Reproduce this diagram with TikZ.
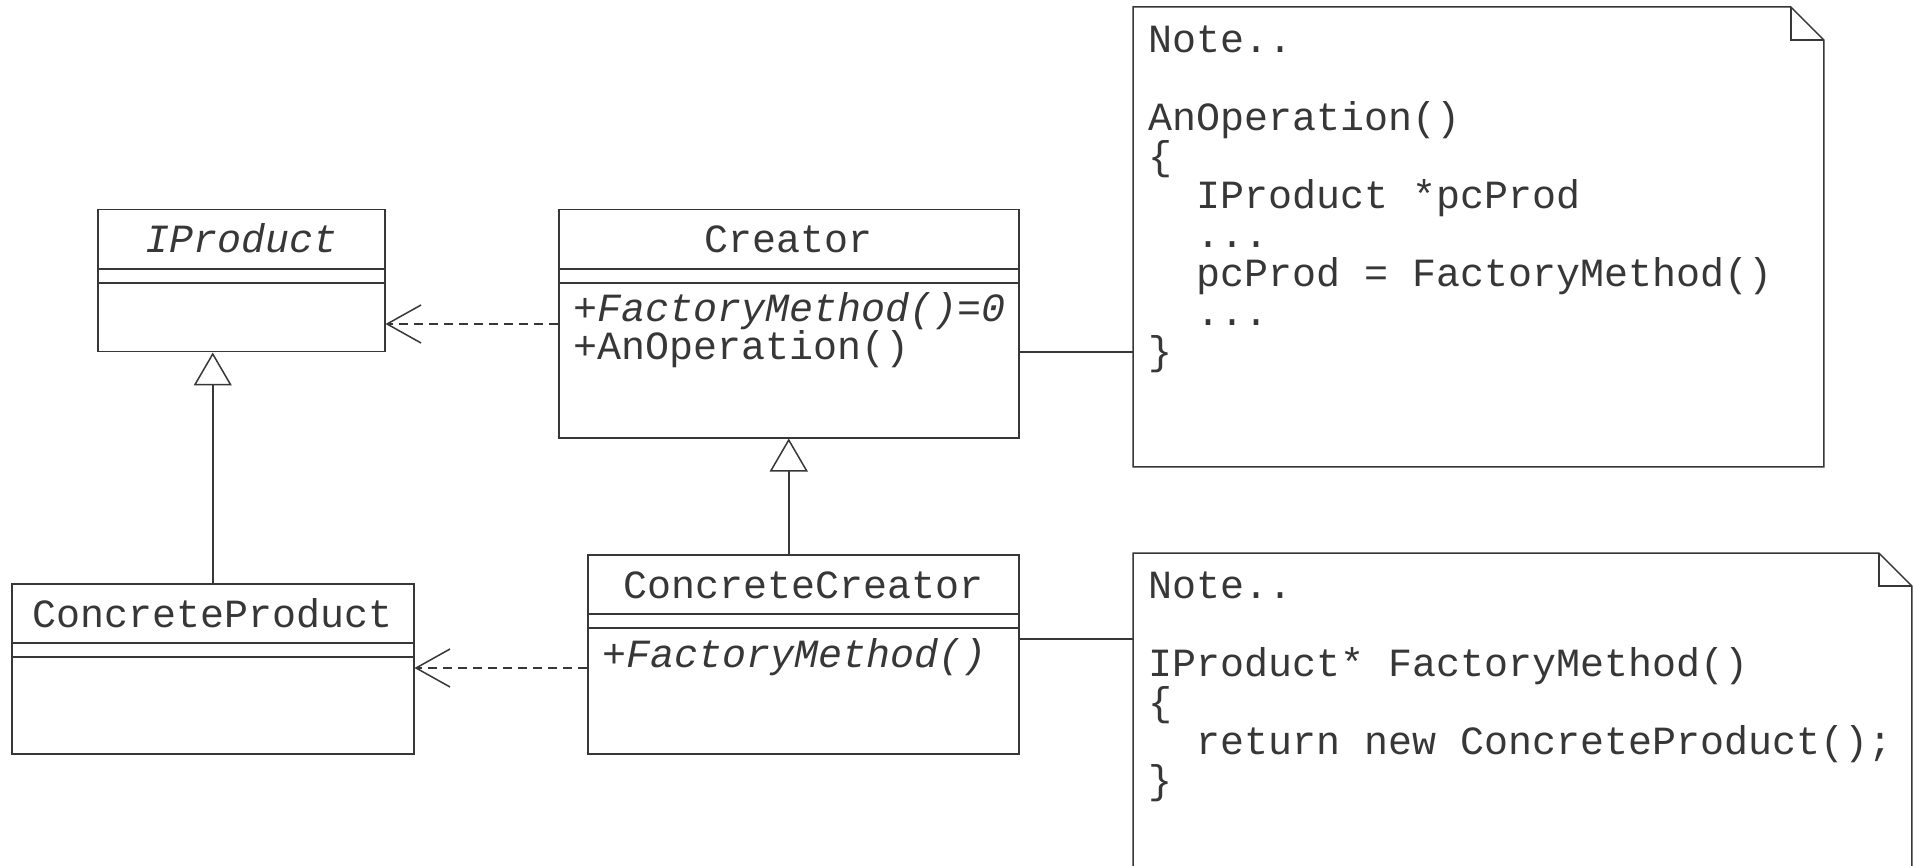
\documentclass[tikz,border=0pt]{standalone}
\usepackage{fontspec}
\usepackage{xcolor}
\usepackage{tikz}
\usetikzlibrary{arrows.meta, positioning, calc}
\newfontfamily\umlfont{Liberation Mono}
\newcommand{\umlsize}{\fontsize{20}{19.5}\selectfont}
\definecolor{umlgray}{RGB}{55,55,55}

\begin{document}
\begin{tikzpicture}[
    x=0.5pt, y=-0.5pt,
    class/.style={rectangle, draw=umlgray, line width=0.75pt, anchor=north west, inner sep=0pt},
    notebox/.style={rectangle, anchor=north west, inner sep=0pt},
    classname/.style={anchor=base, inner sep=0pt, text=umlgray, font=\umlfont\umlsize},
    method/.style={anchor=base west, inner sep=0pt, text=umlgray, font=\umlfont\umlsize},
    abstractop/.style={method, font=\umlfont\itshape\umlsize},
    notetext/.style={anchor=north west, inner sep=0pt, align=left, text=umlgray, font=\umlfont\umlsize},
    compline/.style={draw=umlgray, line width=0.75pt},
    noteline/.style={draw=umlgray, line width=0.75pt},
    dep/.style={draw=umlgray, line width=0.75pt, dash pattern=on 4.5pt off 3pt,
                -{Straight Barb[length=17pt, width=19pt]}},
    gen/.style={draw=umlgray, line width=0.75pt, -{Triangle[open, length=16.5pt, width=19pt]}}]

\useasboundingbox (0,0) rectangle (1913,866);
\clip (0,0) rectangle (1913,866);
\fill[white] (0,0) rectangle (1913,866);

%% Classes: IProduct, Creator, ConcreteProduct, ConcreteCreator
\node[class, minimum width=143.5pt, minimum height=71pt]   (iprod)    at (97,209)  {};
\node[class, minimum width=230pt,   minimum height=114pt]  (creator)  at (558,209) {};
\node[class, minimum width=201pt,   minimum height=85pt]   (cprod)    at (11,583)  {};
\node[class, minimum width=215.5pt, minimum height=99.5pt] (ccreator) at (587,554) {};

%% Compartments
\foreach \c in {iprod, creator, cprod, ccreator}
    \foreach \d in {30pt, 37pt}
        \draw[compline] ([yshift=-\d]\c.north west) -- ([yshift=-\d]\c.north east);

%% Names
\node[classname, font=\umlfont\itshape\umlsize] (iprodname) at ([yshift=-22pt]iprod.north) {IProduct};
\node[classname] (creatorname)  at ([yshift=-22pt]creator.north)  {Creator};
\node[classname] (cprodname)    at ([yshift=-22pt]cprod.north)    {ConcreteProduct};
\node[classname] (ccreatorname) at ([yshift=-22pt]ccreator.north) {ConcreteCreator};

%% Operations
\node[abstractop] (creatorfm)  at ([shift={(7.5pt,-56.5pt)}]creator.north west)  {+FactoryMethod()=0};
\node[method]     (creatorop)  at ([shift={(7.5pt,-75.5pt)}]creator.north west)  {+AnOperation()};
\node[abstractop] (ccreatorfm) at ([shift={(7.5pt,-56.5pt)}]ccreator.north west) {+FactoryMethod()};

%% ── Notes (dog-eared) ───────────────────────────────────────────────
\node[notebox, minimum width=345pt, minimum height=229.5pt] (note1) at (1133,7)   {};
\node[notebox, minimum width=389pt, minimum height=175pt]   (note2) at (1133,553) {};
\foreach \n in {note1, note2} {
    \draw[noteline] (\n.north west) -- ([xshift=-16.5pt]\n.north east)
        -- ([yshift=-16.5pt]\n.north east) -- (\n.south east) -- (\n.south west) -- cycle;
    \draw[noteline] ([xshift=-16.5pt]\n.north east) |- ([yshift=-16.5pt]\n.north east);
}

\node[notetext] (note1text) at ([shift={(7.5pt,-8.85pt)}]note1.north west)
    {\strut Note..\\ \mbox{}\\ AnOperation()\\ \{\\ \phantom{xx}IProduct *pcProd\\
     \phantom{xx}...\\ \phantom{xx}pcProd = FactoryMethod()\\ \phantom{xx}...\\ \}};

\node[notetext] (note2text) at ([shift={(7.5pt,-8.85pt)}]note2.north west)
    {\strut Note..\\ \mbox{}\\ IProduct* FactoryMethod()\\ \{\\
     \phantom{xx}return new ConcreteProduct();\\ \}};

%% ── Connectors ──────────────────────────────────────────────────────
%% Dependencies
\draw[dep] (creator.west |- 0,324)  -- (iprod.east |- 0,324);
\draw[dep] (ccreator.west |- 0,668) -- (cprod.east |- 0,668);

%% Generalisations
\draw[gen] (cprod.north) -- (cprod.north |- iprod.south);
\draw[gen] (ccreator.north -| creator.south) -- (creator.south);

%% Note anchors
\draw[noteline] (creator.east |- 0,352)  -- (note1.west |- 0,352);
\draw[noteline] (ccreator.east |- 0,639) -- (note2.west |- 0,639);

\end{tikzpicture}
\end{document}
